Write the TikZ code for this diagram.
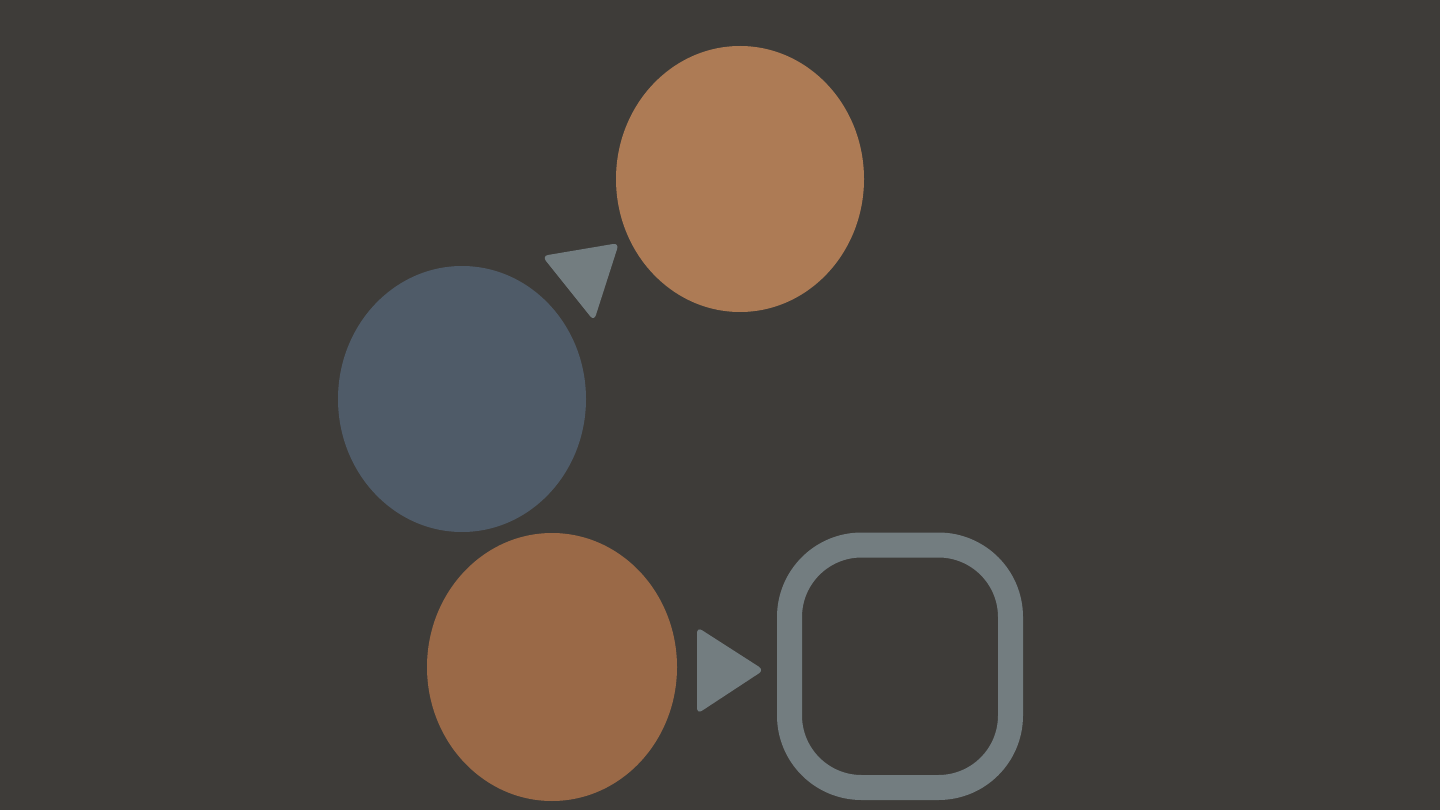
\documentclass[tikz,border=0pt]{standalone}
\begin{document}
\begin{tikzpicture}[x=1pt,y=-1pt]
\definecolor{bg}{HTML}{3E3C39}
\definecolor{orangetop}{HTML}{AD7B55}
\definecolor{bluec}{HTML}{4F5B68}
\definecolor{brownc}{HTML}{9A6947}
\definecolor{grayc}{HTML}{737D80}
\tikzset{tip/.style={fill=grayc, rounded corners=6pt}}
\fill[bg] (0,0) rectangle (1440,810);
\useasboundingbox (0,0) rectangle (1440,810);
\fill[orangetop] (740,179) ellipse [x radius=124, y radius=133];
\fill[bluec] (462,399) ellipse [x radius=124, y radius=133];
\fill[brownc] (552,667) ellipse [x radius=125, y radius=134];
\draw[grayc, line width=25pt, rounded corners=72pt] (789.5,545) rectangle (1010.5,787.5);
\fill[tip] (542,256) -- (619,243) -- (594,321) -- cycle;
\fill[tip] (697,627) -- (764,670) -- (697,714) -- cycle;
\end{tikzpicture}
\end{document}
